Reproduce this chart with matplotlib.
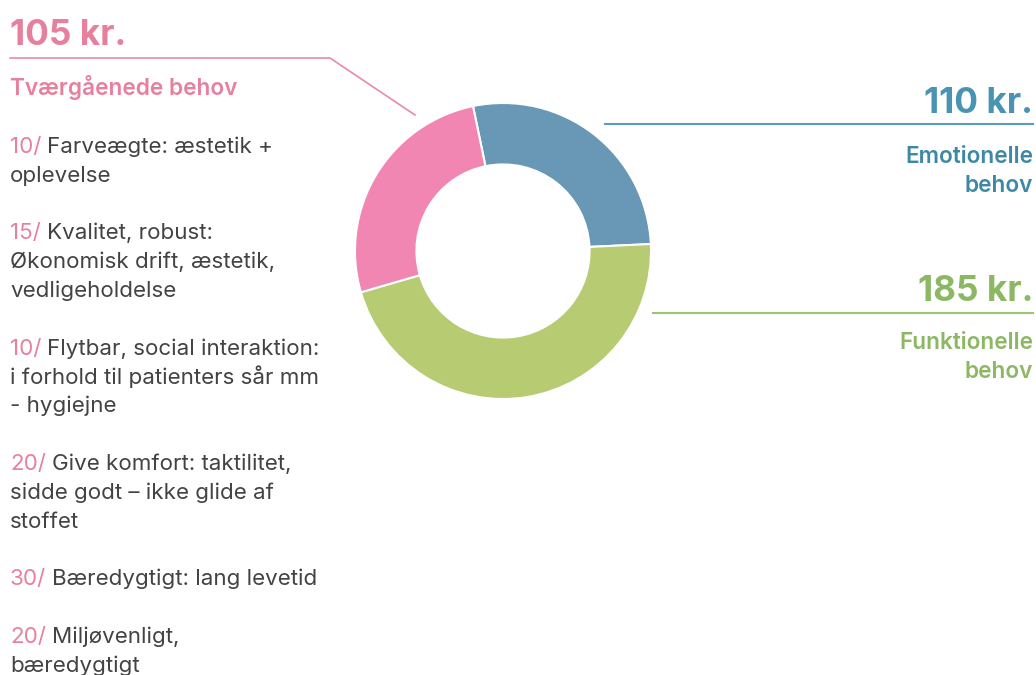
import matplotlib
matplotlib.use("Agg")
import matplotlib.pyplot as plt

# ---- data ----
segment_names = ["Emotionelle\nbehov", "Funktionelle\nbehov", "Tværgåenede behov"]
segment_values = [110, 185, 105]          # kr.
segment_colors = ["#6898B6", "#B6CB72", "#F086B1"]

item_values = [10, 15, 10, 20, 30, 20]
item_texts = [
    ["Farveægte: æstetik +", "oplevelse"],
    ["Kvalitet, robust:", "Økonomisk drift, æstetik,", "vedligeholdelse"],
    ["Flytbar, social interaktion:", "i forhold til patienters sår mm", "- hygiejne"],
    ["Give komfort: taktilitet,", "sidde godt – ikke glide af", "stoffet"],
    ["Bæredygtigt: lang levetid"],
    ["Miljøvenligt,", "bæredygtigt"],
]

PINK = "#E7809D"
BLUE = "#4A94B3"
BLUE2 = "#3F88A5"
GREEN = "#8CB863"
GREY = "#434343"
FONT = ["Inter", "DejaVu Sans"]
BODY = 16.1
HEAD = 16.3
BIG = 25.3

W, H = 1036, 675
fig = plt.figure(figsize=(W / 100, H / 100), dpi=100)
ax = fig.add_axes([0, 0, 1, 1])


def Y(px):
    return H - px


# donut
ax.pie(segment_values, colors=segment_colors, startangle=101.7, counterclock=False,
       center=(503, Y(251)), radius=148, frame=True,
       wedgeprops=dict(width=148 * 0.415, edgecolor="white", linewidth=1.5))
ax.set_xlim(0, W)
ax.set_ylim(0, H)
ax.set_aspect("equal")
ax.axis("off")

# leader lines
ax.plot([10, 330, 415], [Y(58), Y(58), Y(115)], color="#E98AA5", lw=1.2)
ax.plot([605, 1033], [Y(124), Y(124)], color="#5A9DBB", lw=1.5)
ax.plot([653, 1033], [Y(313), Y(313)], color="#9DC472", lw=1.5)

# right side labels
ax.text(1033, Y(113), f"{segment_values[0]} kr.", ha="right", va="baseline",
        fontsize=BIG, fontweight="bold", color=BLUE, family=FONT)
for i, line in enumerate(segment_names[0].split("\n")):
    ax.text(1033, Y(163 + 29 * i), line, ha="right", va="baseline",
            fontsize=HEAD, fontweight="semibold", color=BLUE2, family=FONT)

ax.text(1033, Y(301), f"{segment_values[1]} kr.", ha="right", va="baseline",
        fontsize=BIG, fontweight="bold", color=GREEN, family=FONT)
for i, line in enumerate(segment_names[1].split("\n")):
    ax.text(1033, Y(349 + 28.5 * i), line, ha="right", va="baseline",
            fontsize=HEAD, fontweight="semibold", color=GREEN, family=FONT)

# left side
ax.text(10, Y(45), f"{segment_values[2]} kr.", ha="left", va="baseline",
        fontsize=BIG, fontweight="bold", color=PINK, family=FONT)
ax.text(10, Y(95), segment_names[2], ha="left", va="baseline",
        fontsize=HEAD, fontweight="semibold", color=PINK, family=FONT)

renderer = fig.canvas.get_renderer()
step = 28.85
base = 95 + 2 * step
for val, lines in zip(item_values, item_texts):
    pre = ax.text(10, Y(base), f"{val}/", ha="left", va="baseline",
                  fontsize=BODY, color=PINK, family=FONT)
    bb = pre.get_window_extent(renderer=renderer)
    ax.text(bb.x1 + 6, Y(base), lines[0], ha="left", va="baseline",
            fontsize=BODY, color=GREY, family=FONT)
    for j, ln in enumerate(lines[1:], start=1):
        ax.text(10, Y(base + j * step), ln, ha="left", va="baseline",
                fontsize=BODY, color=GREY, family=FONT)
    base += (len(lines) + 1) * step

fig.savefig("out.png", dpi=100, facecolor="white")
